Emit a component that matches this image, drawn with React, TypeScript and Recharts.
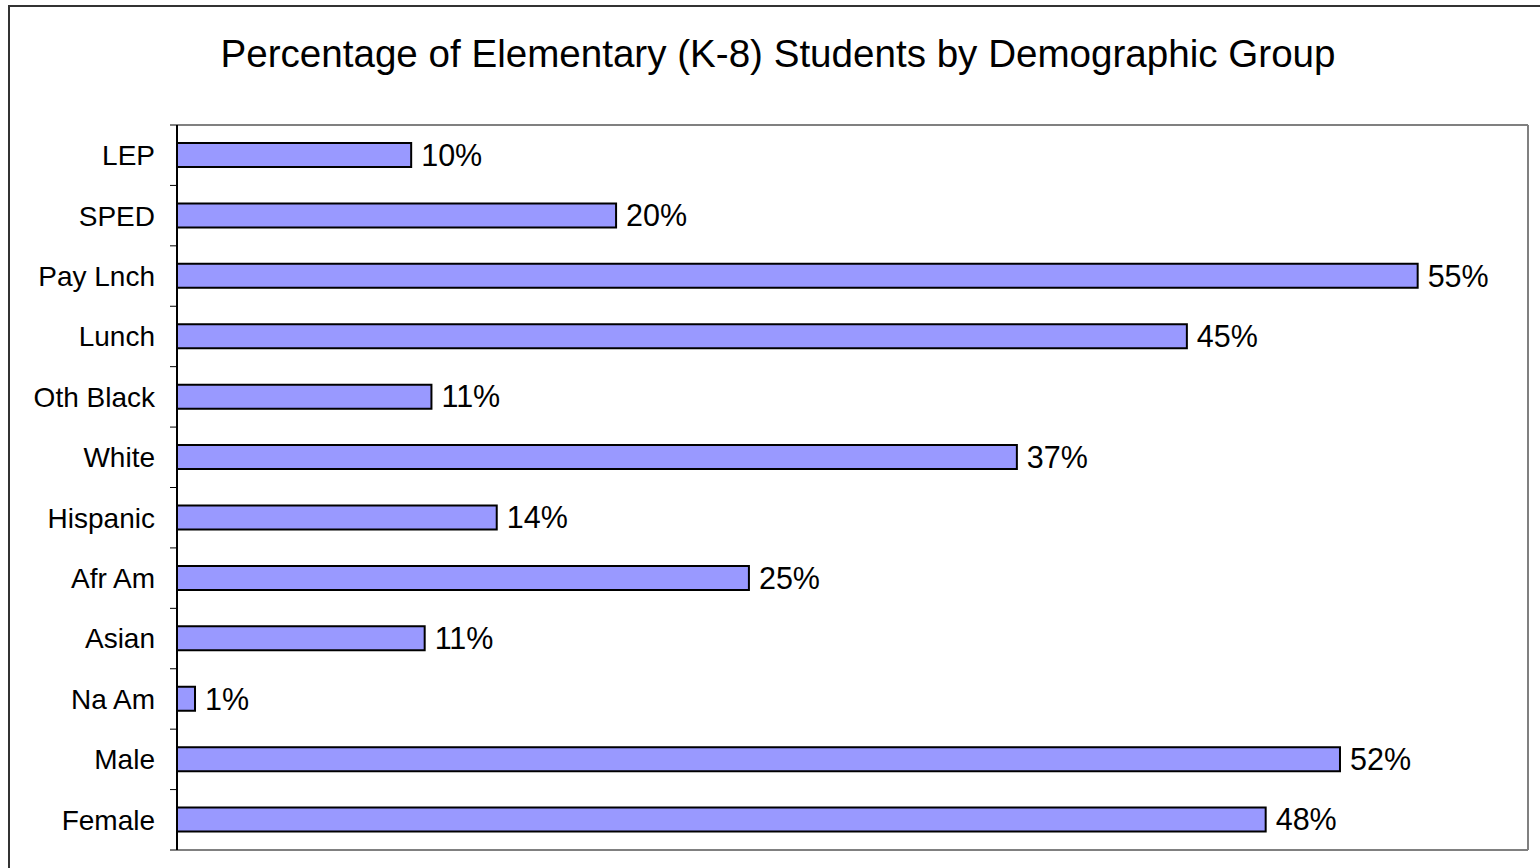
import React from 'react';
import { BarChart, Bar, XAxis, YAxis, LabelList } from 'recharts';

const categories = ['LEP', 'SPED', 'Pay Lnch', 'Lunch', 'Oth Black', 'White', 'Hispanic', 'Afr Am', 'Asian', 'Na Am', 'Male', 'Female'];
const percentages = [10.4, 19.5, 55.1, 44.85, 11.3, 37.3, 14.2, 25.4, 11.0, 0.8, 51.65, 48.35];
const xDomain = [0, 60];

const data = categories.map((c, i) => ({ name: c, value: percentages[i] }));

const W = 1540;
const H = 868;
const MARGIN = { top: 124, right: 11, bottom: 17, left: 0 };
const AXIS_W = 177;
const PLOT_H = H - 125 - 18;
const BAND = PLOT_H / categories.length;
const FONT = '"Liberation Sans", Arial, sans-serif';

const CatTick = (props: any) => {
  const { y, payload, index } = props;
  const ax = AXIS_W;
  const isLast = index === categories.length - 1;
  return (
    <g>
      <line x1={ax - 7} x2={ax} y1={y - BAND / 2} y2={y - BAND / 2} stroke="#000" strokeWidth={1} />
      {isLast && <line x1={ax - 7} x2={ax} y1={y + BAND / 2} y2={y + BAND / 2} stroke="#000" strokeWidth={1} />}
      <text x={ax - 22} y={y} dy="0.355em" textAnchor="end" fontFamily={FONT} fontSize={28} fill="#000">
        {payload.value}
      </text>
    </g>
  );
};

export default function App() {
  return (
    <div style={{ position: 'absolute', left: 0, top: 0, width: W, height: H, background: '#fff', overflow: 'hidden' }}>
      <div style={{ position: 'absolute', left: 8, top: 5, width: W, height: H, border: '2px solid #333', boxSizing: 'border-box' }} />
      <div
        style={{
          position: 'absolute',
          left: 0,
          top: 35,
          width: 1556,
          textAlign: 'center',
          fontFamily: FONT,
          fontSize: 38.6,
          lineHeight: '38.6px',
          color: '#000',
          whiteSpace: 'nowrap',
        }}
      >
        Percentage of Elementary (K-8) Students by Demographic Group
      </div>
      <div style={{ position: 'absolute', left: 0, top: 0 }}>
        <BarChart width={W} height={H} data={data} layout="vertical" margin={MARGIN} barCategoryGap={0}>
          <XAxis type="number" domain={xDomain} height={1} tick={false} tickLine={false} axisLine={{ stroke: '#808080', strokeWidth: 2 }} />
          <XAxis xAxisId="top" orientation="top" type="number" domain={xDomain} height={1} tick={false} tickLine={false} axisLine={{ stroke: '#808080', strokeWidth: 2 }} />
          <YAxis yAxisId="right" orientation="right" type="category" dataKey="name" width={1} tick={false} tickLine={false} axisLine={{ stroke: '#808080', strokeWidth: 2 }} />
          <YAxis
            type="category"
            dataKey="name"
            width={AXIS_W}
            tickLine={false}
            axisLine={{ stroke: '#000', strokeWidth: 2 }}
            tick={<CatTick />}
            interval={0}
          />
          <Bar dataKey="value" fill="#9999FF" stroke="#000" strokeWidth={2} barSize={24} isAnimationActive={false}>
            <LabelList
              dataKey="value"
              position="right"
              offset={10}
              formatter={(v: any) => `${Math.round(Number(v))}%`}
              style={{ fontFamily: FONT, fontSize: 30.5, fill: '#000' }}
            />
          </Bar>
        </BarChart>
      </div>
    </div>
  );
}
